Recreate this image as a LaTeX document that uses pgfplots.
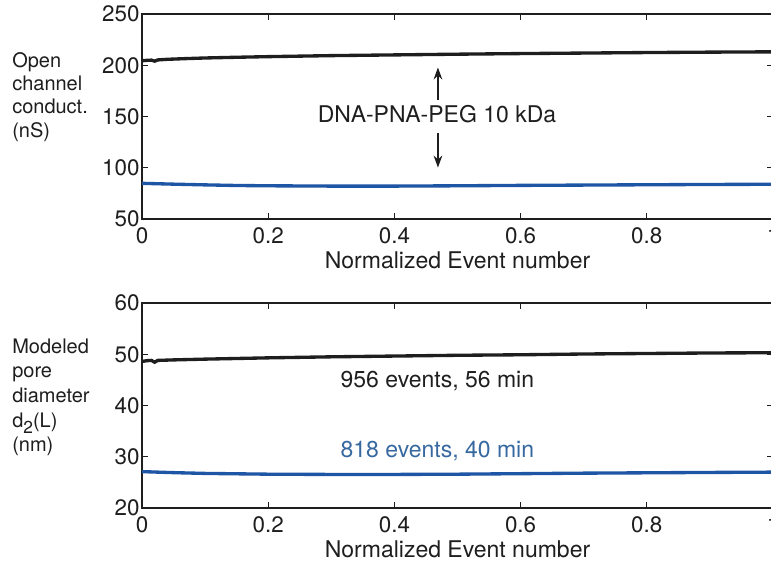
\documentclass[border=0pt]{standalone}
\usepackage{fontspec}
\setmainfont{TeX Gyre Heros}
\usepackage{pgfplots}
\pgfplotsset{compat=1.18}
\usetikzlibrary{arrows.meta}
\definecolor{lineblue}{RGB}{30,85,165}
\definecolor{textblue}{RGB}{55,105,160}
\definecolor{ink}{RGB}{30,30,30}
\begin{document}
\begin{tikzpicture}[x=0.75pt,y=-0.75pt]
\useasboundingbox (0,0) rectangle (771,565);
\pgfplotsset{
  panel/.style={
    scale only axis, width=473.25pt, height=153.75pt,
    xmin=0, xmax=1, xtick={0,0.2,0.4,0.6,0.8,1},
    tick align=inside, major tick length=4.5pt,
    tick style={ink, line width=0.6pt},
    axis line style={ink, line width=1pt},
    ticklabel style={font=\fontsize{16.8}{16.8}\selectfont, text=ink},
    /pgf/number format/assume math mode=true,
    xticklabel style={yshift=-3pt},
    yticklabel style={xshift=1.7pt},
    xlabel={Normalized Event number},
    xlabel style={at={(axis description cs:0.5,0)}, anchor=base, yshift=-36.75pt,
      font=\fontsize{17.25}{17.25}\selectfont, text=ink},
  }
}
% ---------- top panel ----------
\begin{axis}[panel, at={(106.5pt,-164.25pt)}, anchor=south west,
  ymin=50, ymax=250, ytick={50,100,150,200,250}]
\addplot[ink, line width=2.5pt] coordinates {
 (0,204.4) (0.008,204.8) (0.015,205) (0.02,204.0) (0.025,205.2) (0.04,205.8)
 (0.07,206.5) (0.1,207.1) (0.15,207.8) (0.2,208.4) (0.3,209.4) (0.4,210.1)
 (0.5,210.8) (0.6,211.4) (0.7,211.9) (0.8,212.4) (0.9,212.8) (1,213.1)};
\addplot[lineblue, line width=2.5pt] coordinates {
 (0,84.8) (0.05,84.0) (0.1,83.3) (0.15,82.7) (0.2,82.4) (0.3,82.1) (0.4,82.1)
 (0.5,82.4) (0.6,82.8) (0.7,83.1) (0.8,83.4) (0.9,83.7) (1,83.9)};
\node[anchor=base, font=\fontsize{17.25}{17.25}\selectfont, text=ink]
  at (axis cs:0.4675,144.6) {DNA-PNA-PEG 10 kDa};
\draw[ink, line width=1pt, -{Stealth[length=9pt,width=6.5pt]}]
  (axis cs:0.469,166.1) -- (axis cs:0.469,197.8);
\draw[ink, line width=1pt, -{Stealth[length=9pt,width=6.5pt]}]
  (axis cs:0.469,133.9) -- (axis cs:0.469,100.2);
\end{axis}
% ---------- bottom panel ----------
\begin{axis}[panel, at={(106.5pt,-381pt)}, anchor=south west,
  ymin=20, ymax=60, ytick={20,30,40,50,60}]
\addplot[ink, line width=2.5pt] coordinates {
 (0,48.6) (0.008,48.75) (0.015,48.8) (0.02,48.45) (0.025,48.8) (0.05,48.9)
 (0.1,49.05) (0.2,49.3) (0.3,49.5) (0.4,49.65) (0.5,49.8) (0.6,49.9)
 (0.7,50.05) (0.8,50.15) (0.9,50.25) (1,50.3)};
\addplot[lineblue, line width=2.5pt] coordinates {
 (0,27.1) (0.05,26.9) (0.1,26.75) (0.2,26.6) (0.3,26.55) (0.4,26.55)
 (0.5,26.6) (0.6,26.7) (0.7,26.8) (0.8,26.87) (0.9,26.94) (1,27.0)};
\node[anchor=base, font=\fontsize{17.25}{17.25}\selectfont, text=ink]
  at (axis cs:0.468,43.5) {956 events, 56 min};
\node[anchor=base, font=\fontsize{17.25}{17.25}\selectfont, text=textblue]
  at (axis cs:0.468,29.95) {818 events, 40 min};
\end{axis}
% ---------- side labels ----------
\begin{scope}[every node/.style={anchor=base west, inner sep=0pt, text=ink,
    font=\fontsize{15}{15}\selectfont}]
\node at (12,67) {Open};
\node at (12,90) {channel};
\node at (12,113) {conduct.};
\node at (12,137) {(nS)};
\node at (12,353) {Modeled};
\node at (12,377.5) {pore};
\node at (12,402) {diameter};
\node at (12,427) {d\raisebox{-0.3em}{\fontsize{13}{13}\selectfont 2}(L)};
\node at (12,451) {(nm)};
\end{scope}
\end{tikzpicture}
\end{document}
